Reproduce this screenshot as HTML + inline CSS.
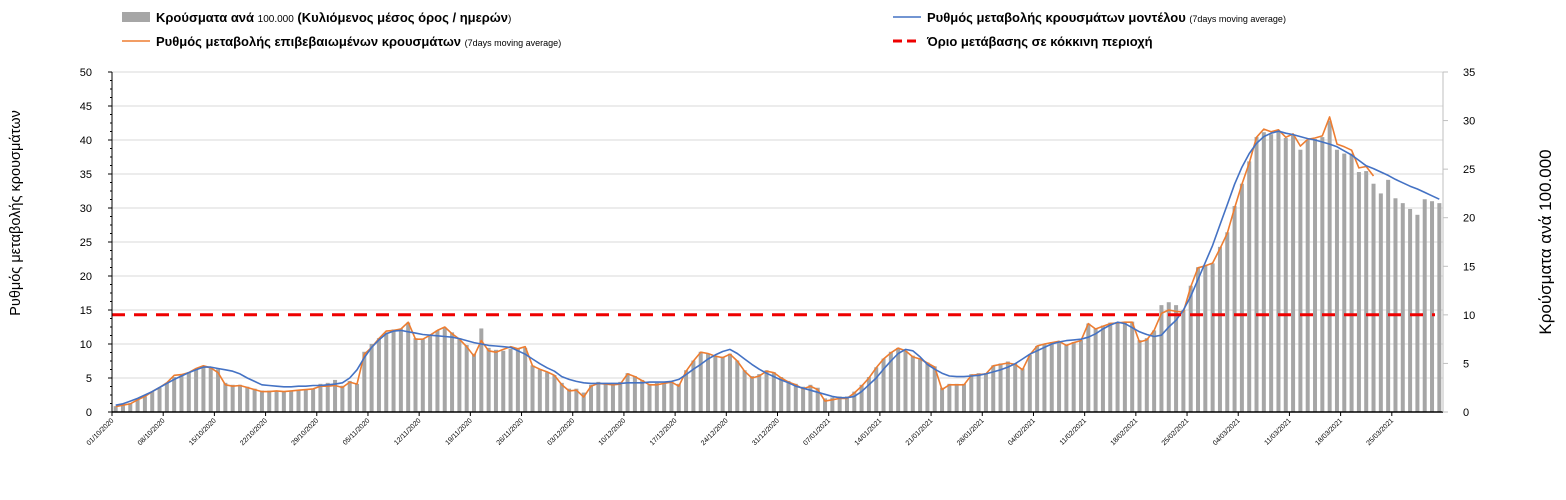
<!DOCTYPE html>
<html><head><meta charset="utf-8"><style>
body{margin:0;background:#fff;width:1566px;height:495px;overflow:hidden;font-family:"Liberation Sans",sans-serif}
svg text{font-family:"Liberation Sans","DejaVu Sans",sans-serif}
</style></head><body>
<svg id="chart" width="1566" height="495" xmlns="http://www.w3.org/2000/svg">
<g>
 <g><rect x="122" y="12" width="28" height="10" fill="#a6a6a6"/><text x="156" y="22" font-size="13" font-weight="bold">Κρούσματα ανά <tspan font-size="10" font-weight="normal">100.000</tspan> (Κυλιόμενος μέσος όρος / ημερών<tspan font-size="10" font-weight="normal">)</tspan></text></g>
 <g><line x1="122" y1="41" x2="150" y2="41" stroke="#ed7d31" stroke-width="1.5"/><text x="156" y="46" font-size="13" font-weight="bold">Ρυθμός μεταβολής επιβεβαιωμένων κρουσμάτων <tspan font-size="9" font-weight="normal">(7days moving average)</tspan></text></g>
 <g><line x1="893" y1="17" x2="921" y2="17" stroke="#4472c4" stroke-width="1.5"/><text x="927" y="22" font-size="13" font-weight="bold">Ρυθμός μεταβολής κρουσμάτων μοντέλου <tspan font-size="9" font-weight="normal">(7days moving average)</tspan></text></g>
 <g><line x1="893" y1="41" x2="921" y2="41" stroke="#e00" stroke-width="3" stroke-dasharray="9,5"/><text x="927" y="46" font-size="13" font-weight="bold">Όριο μετάβασης σε κόκκινη περιοχή</text></g>
</g>
<text transform="translate(20,213) rotate(-90)" text-anchor="middle" font-size="14.5">Ρυθμός μεταβολής κρουσμάτων</text>
<text transform="translate(1551,242) rotate(-90)" text-anchor="middle" font-size="17">Κρούσματα ανά 100.000</text>
<g id="plot"></g>
</svg>
<script>
const leftTicks=[0,5,10,15,20,25,30,35,40,45,50];
const rightTicks=[0,5,10,15,20,25,30,35];
const dateLabels=["01/10/2020","08/10/2020","15/10/2020","22/10/2020","29/10/2020","05/11/2020","12/11/2020","19/11/2020","26/11/2020","03/12/2020","10/12/2020","17/12/2020","24/12/2020","31/12/2020","07/01/2021","14/01/2021","21/01/2021","28/01/2021","04/02/2021","11/02/2021","18/02/2021","25/02/2021","04/03/2021","11/03/2021","18/03/2021","25/03/2021"];
const threshold=14.3;
const cases=[0.6,0.8,0.9,1.3,1.6,2.1,2.5,3.0,3.6,3.9,
4.1,4.4,4.7,4.6,4.4,3.0,2.8,2.8,2.6,2.4,
2.2,2.2,2.2,2.1,2.2,2.3,2.3,2.4,2.9,3.0,
3.3,2.7,3.2,2.9,6.2,7.0,7.6,8.2,8.5,8.6,
9.2,7.6,7.5,7.9,8.4,8.7,8.2,7.6,6.9,6.0,
8.6,6.6,6.4,6.3,6.5,6.5,6.6,4.8,4.4,4.1,
3.8,3.0,2.4,2.4,2.0,2.8,3.1,3.0,3.0,3.1,
4.0,3.7,3.3,2.9,3.0,3.0,3.2,2.9,4.3,5.3,
6.2,6.0,5.8,5.7,6.0,5.3,4.3,3.7,3.9,4.3,
4.1,3.6,3.2,2.9,2.6,2.8,2.5,1.4,1.5,1.6,
1.6,2.1,2.8,3.6,4.6,5.5,6.2,6.6,6.3,5.8,
5.5,5.1,4.7,2.5,2.9,2.9,2.9,3.9,4.0,4.0,
4.8,5.0,5.2,5.0,4.5,5.9,6.8,7.0,7.2,7.3,
6.9,7.2,7.4,9.1,8.6,8.9,9.2,9.2,9.3,9.3,
7.4,7.6,8.4,11.0,11.3,11.0,10.5,13.0,14.9,15.1,
15.3,17.0,18.5,21.2,23.5,25.8,28.3,28.8,28.6,28.9,
28.2,28.5,27.0,28.0,28.1,28.3,30.0,27.0,26.6,26.6,
24.7,24.8,23.5,22.5,23.9,22.0,21.5,20.9,20.3,21.9,
21.7,21.5];
const confirmedRate=[0.8,1.0,1.2,1.8,2.3,3.0,3.6,4.3,5.4,5.5,
5.8,6.4,6.8,6.5,5.8,4.0,3.8,3.9,3.6,3.3,
3.0,3.0,3.1,3.0,3.1,3.2,3.3,3.4,3.8,3.8,
3.9,3.6,4.4,4.1,8.5,9.5,10.8,11.9,12.0,12.2,
13.2,10.7,10.7,11.3,12.0,12.5,11.5,10.7,9.6,8.2,
10.5,9.0,8.8,9.2,9.6,9.3,9.6,6.8,6.3,5.9,
5.4,4.0,3.1,3.2,2.2,3.8,4.2,4.1,4.0,4.1,
5.6,5.2,4.6,4.0,4.0,4.2,4.4,3.8,6.0,7.5,
8.8,8.6,8.2,8.0,8.5,7.5,6.0,5.0,5.3,6.0,
5.8,5.0,4.4,4.0,3.4,3.8,3.3,1.6,1.8,2.0,
2.0,2.8,3.8,5.0,6.5,7.8,8.7,9.4,9.0,8.1,
7.8,7.2,6.6,3.3,4.0,4.0,4.0,5.4,5.5,5.6,
6.8,7.0,7.2,7.0,6.2,8.4,9.7,10.0,10.2,10.4,
9.8,10.2,10.5,13.0,12.2,12.6,13.0,13.1,13.2,13.2,
10.3,10.6,12.0,14.5,15.0,14.8,14.7,18.4,21.2,21.5,
21.9,24.0,26.3,30.0,33.5,36.6,40.4,41.6,41.2,41.5,
40.4,40.9,39.1,40.1,40.3,40.6,43.4,39.4,39.0,38.5,
35.9,36.1,34.7];
const modelRate=[1.0,1.2,1.6,2.0,2.5,3.0,3.6,4.2,4.8,5.3,
5.8,6.2,6.6,6.6,6.4,6.2,6.0,5.6,5.0,4.5,
4.0,3.9,3.8,3.7,3.7,3.8,3.8,3.9,3.9,4.0,
4.1,4.3,5.0,6.2,8.0,9.5,10.6,11.5,11.9,12.0,
11.8,11.6,11.4,11.3,11.2,11.1,11.0,10.8,10.5,10.2,
10.0,9.8,9.7,9.6,9.5,9.0,8.5,7.8,7.1,6.5,
6.0,5.2,4.8,4.5,4.3,4.2,4.2,4.2,4.2,4.2,
4.3,4.3,4.3,4.4,4.4,4.4,4.5,4.8,5.5,6.3,
7.0,7.8,8.4,8.9,9.2,8.6,7.8,7.0,6.3,5.7,
5.2,4.7,4.3,3.8,3.5,3.2,2.9,2.6,2.3,2.1,
2.1,2.3,3.0,4.0,5.0,6.3,7.5,8.6,9.2,9.0,
8.1,7.0,6.3,5.7,5.3,5.2,5.2,5.3,5.4,5.6,
5.9,6.2,6.6,7.1,7.8,8.5,9.0,9.5,10.0,10.3,
10.5,10.6,10.7,11.0,11.5,12.2,12.8,13.2,13.0,12.4,
11.8,11.4,11.1,11.3,12.5,13.5,15.0,17.0,19.5,22.0,
24.5,27.5,30.5,33.5,36.0,38.0,39.5,40.5,41.0,41.3,
41.0,40.8,40.5,40.2,40.0,39.7,39.4,39.0,38.4,37.8,
37.0,36.2,35.8,35.3,34.8,34.2,33.7,33.2,32.8,32.3,
31.8,31.3];

const NS="http://www.w3.org/2000/svg";
const plot=document.getElementById('plot');
const X0=112,X1=1443,Y0=412,YT=72,N=182;
const step=(X1-X0)/N;
const xc=i=>X0+step*(i+0.5);
const xe=i=>X0+step*i;
const yL=v=>Y0-(v/50)*(Y0-YT);
const yR=v=>Y0-(v/35)*(Y0-YT);
function mk(tag,attrs,parent){const e=document.createElementNS(NS,tag);for(const k in attrs)e.setAttribute(k,attrs[k]);(parent||plot).appendChild(e);return e;}

leftTicks.forEach(t=>{
 const g=mk('line',{x1:X0,x2:X1,y1:yL(t),y2:yL(t),stroke:t===0?'none':'#d9d9d9','stroke-width':1});
 
 
 const tk=mk('line',{x1:X0-4,x2:X0,y1:yL(t),y2:yL(t),stroke:'#000'});
 
 
 const l=mk('text',{x:X0-20,y:yL(t)+4,'text-anchor':'end','font-size':11});
 l.textContent=t;
 
 
});
for(let t=0;t<50;t+=1.25){const m=mk('line',{x1:X0-2,x2:X0,y1:yL(t),y2:yL(t),stroke:'#000'});}
rightTicks.forEach(t=>{
 const tk=mk('line',{x1:X1,x2:X1+5,y1:yR(t),y2:yR(t),stroke:'#bfbfbf'});
 
 
 const l=mk('text',{x:X1+20,y:yR(t)+4,'text-anchor':'start','font-size':11});
 l.textContent=t;
 
 
});
cases.forEach((v,i)=>{
 const r=mk('rect',{x:xc(i)-2,y:yR(v),width:4,height:Y0-yR(v),fill:'#a6a6a6'});
 
 
});
function line(arr,color,name){
 const pts=arr.map((v,i)=>xc(i).toFixed(1)+','+yL(v).toFixed(1)).join(' ');
 const p=mk('polyline',{points:pts,fill:'none',stroke:color,'stroke-width':1.6,'stroke-linejoin':'round'});
 
 
}
line(confirmedRate,'#ed7d31','line-confirmed-rate');
line(modelRate,'#4472c4','line-model-rate');
const th=mk('line',{x1:X0,x2:1435,y1:yL(threshold),y2:yL(threshold),stroke:'#e00','stroke-width':3,'stroke-dasharray':'13,9'});


const ax=mk('line',{x1:X0,x2:X1,y1:Y0,y2:Y0,stroke:'#000','stroke-width':1.5});


const la=mk('line',{x1:X0,x2:X0,y1:YT,y2:Y0,stroke:'#000'});


const ra=mk('line',{x1:X1,x2:X1,y1:YT,y2:Y0,stroke:'#bfbfbf'});


dateLabels.forEach((d,k)=>{
 const x=xe(k*7);
 const tk=mk('line',{x1:x,x2:x,y1:Y0,y2:Y0+4,stroke:'#000'});
 
 
 const t=mk('text',{x:x+2,y:Y0+9,'text-anchor':'end','font-size':7,transform:'rotate(-45 '+(x+2)+' '+(Y0+9)+')'});
 t.textContent=d;
 
 
});
</script>
</body></html>
